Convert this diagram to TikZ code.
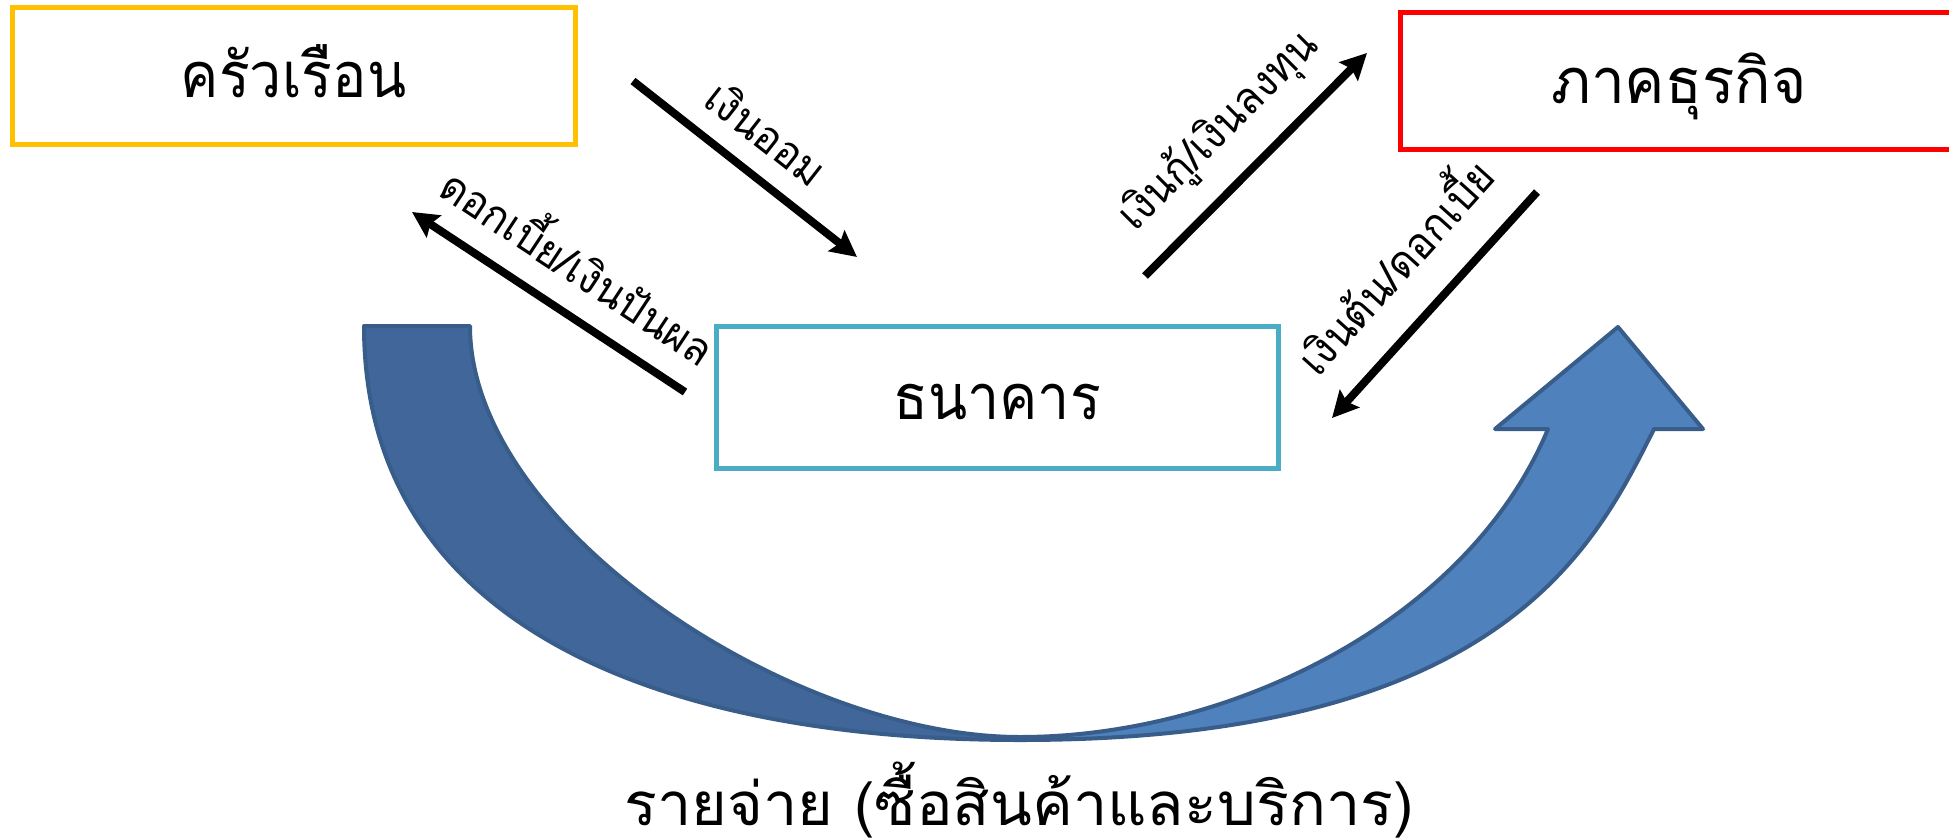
\documentclass[tikz,border=0pt]{standalone}
\usepackage{fontspec}
\newfontfamily\boxfont[Script=Thai, FakeStretch=0.91]{Loma}
\newfontfamily\bizfont[Script=Thai, FakeStretch=0.96]{Loma}
\newfontfamily\labfont[Script=Thai, FakeStretch=0.93]{Loma}
\newfontfamily\spendfont[Script=Thai, FakeStretch=1.02]{Loma}
\usetikzlibrary{arrows.meta}
\definecolor{hhyellow}{HTML}{FFC000}
\definecolor{bizred}{HTML}{FF0000}
\definecolor{bankblue}{HTML}{4BACC6}
\definecolor{arrdark}{HTML}{41679A}
\definecolor{arrlight}{HTML}{4F81BD}
\definecolor{arrline}{HTML}{385D8A}
\begin{document}
\begin{tikzpicture}[x=1pt,y=-1pt,
  box/.style={draw, line width=5pt, minimum width=#1, minimum height=137pt, inner sep=0pt,
    font={\boxfont\fontsize{63pt}{72pt}\selectfont}, text height=44pt, text depth=0pt},
  flow/.style={line width=8pt, draw=black, -{Stealth[length=26pt,width=26pt,inset=4pt]}},
  lab/.style={inner sep=0pt, font={\labfont\fontsize{44pt}{50pt}\selectfont}},
  bigband/.style={draw=arrline, line width=4pt, line join=round}
]
\useasboundingbox (0,0) rectangle (1949,839);
\clip (0,0) rectangle (1949,839);

% boxes
\node[box=563pt, draw=hhyellow] (house) at (293.5,75.5) {ครัวเรือน};
\node[box=558pt, draw=bizred, font={\bizfont\fontsize{63pt}{72pt}\selectfont}] (biz) at (1679,81) {ภาคธุรกิจ};
\node[box=562pt, draw=bankblue, minimum height=142pt] (bank) at (997,397) {ธนาคาร};

% big curved arrow (spending)
\filldraw[bigband, fill=arrdark]
  (364,326) -- (470,326)
  .. controls (470,526) and (790,737) .. (1020,737)
  -- (1020,740)
  .. controls (660,740) and (364,626) .. (364,326)
  -- cycle;
\filldraw[bigband, fill=arrlight]
  (1020,740) .. controls (1500,740) and (1594,549) .. (1654,429)
  -- (1703,429) -- (1618,327) -- (1495,429) -- (1548,429)
  .. controls (1468,621) and (1230,737) .. (1020,737)
  -- cycle;

% connector end points
\coordinate (s1) at (633,81);   \coordinate (e1) at (857,257);
\coordinate (s2) at (685,392);  \coordinate (e2) at (412,212);
\coordinate (s3) at (1145,276); \coordinate (e3) at (1367,53);
\coordinate (s4) at (1537,192); \coordinate (e4) at (1332,418);

\draw[flow] (s1) -- (e1);
\draw[flow] (s2) -- (e2);
\draw[flow] (s3) -- (e3);
\draw[flow] (s4) -- (e4);

% labels
\node[lab, rotate=-38] (l1) at (767,133) {เงินออม};
\node[lab, rotate=-33.4] (l2) at (581,262) {ดอกเบี้ย/เงินปันผล};
\node[lab, rotate=45] (l3) at (1219,131) {เงินกู้/เงินลงทุน};
\node[lab, rotate=48] (l4) at (1391,263) {เงินต้น/ดอกเบี้ย};

\node[inner sep=0pt, anchor=base, font={\spendfont\fontsize{60pt}{68pt}\selectfont}] (spend) at (1019,825) {รายจ่าย (ซื้อสินค้าและบริการ)};
\end{tikzpicture}
\end{document}
